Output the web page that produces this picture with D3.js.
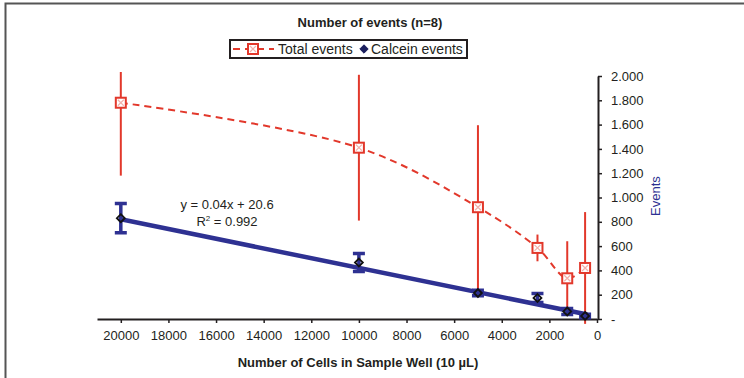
<!DOCTYPE html>
<html>
<head>
<meta charset="utf-8">
<script src="https://cdn.jsdelivr.net/npm/d3@7"></script>
<style>
  body { margin: 0; background: #fff; }
  svg text { font-family: "Liberation Sans Narrow", "Liberation Sans", sans-serif; fill: #231f20; }
</style>
</head>
<body>
<svg id="chart"></svg>
<script>
// data
var cells = [20000, 10000, 5000, 2500, 1250, 500];
var totalEvents = [1780, 1410, 920, 585, 335, 420];
var totalErr = [600, 600, 675, 110, 305, 460];
var calceinEvents = [830, 465, 214, 173, 62, 25];
var calceinErr = [120, 75, 22, 37, 25, 15];
var xTicks = [20000, 18000, 16000, 14000, 12000, 10000, 8000, 6000, 4000, 2000, 0];
var yTicks = [0, 200, 400, 600, 800, 1000, 1200, 1400, 1600, 1800, 2000];
var trend = { slope: 0.04, intercept: 20.6, r2: 0.992 };

var width = 744,
    height = 378;

var red = "#e2382b",
    blue = "#2e3192";

var svg = d3.select("#chart")
  .attr("width", width)
  .attr("height", height);

// frame
svg.append("path")
  .attr("d", "M5.5,378 V3.5 H744")
  .style("fill", "none")
  .style("stroke", "#555")
  .style("stroke-width", 2);

var x = d3.scaleLinear().domain([0, 21000]).range([597, 97]);
var y = d3.scaleLinear().domain([0, 2000]).range([319, 76]);

// x axis
var xAxis = svg.append("g")
  .attr("transform", "translate(0,319)")
  .call(d3.axisBottom(x).tickValues(xTicks).tickSize(4).tickSizeOuter(0).tickFormat(d3.format("d")));
xAxis.select(".domain").style("stroke", "#231f20").style("stroke-width", 2);
xAxis.selectAll(".tick line").style("stroke", "#231f20").style("stroke-width", 1.5);
xAxis.selectAll("text").attr("dy", "1.05em").style("font-size", "13px");

// y axis on the right
var yAxis = svg.append("g")
  .attr("transform", "translate(598,0)")
  .call(d3.axisRight(y).tickValues(yTicks).tickSize(4).tickSizeOuter(0)
    .tickFormat(function (d) { return d === 0 ? "-" : d3.format(",")(d).replace(",", "."); }));
yAxis.select(".domain").style("stroke", "#231f20").style("stroke-width", 2);
yAxis.selectAll(".tick line").style("stroke", "#231f20").style("stroke-width", 1.5);
yAxis.selectAll("text").attr("x", 13).style("font-size", "13px");

// total events error bars
svg.append("g").selectAll("line")
  .data(cells)
  .join("line")
  .attr("x1", function (d) { return x(d); })
  .attr("x2", function (d) { return x(d); })
  .attr("y1", function (d, i) { return Math.max(72, y(totalEvents[i] + totalErr[i])); })
  .attr("y2", function (d, i) { return y(totalEvents[i] - totalErr[i]); })
  .style("stroke", red)
  .style("stroke-width", 2);

// total events smoothed dashed line
var line = d3.line()
  .x(function (d) { return x(d[0]); })
  .y(function (d) { return y(d[1]); })
  .curve(d3.curveCatmullRom.alpha(0.5));

svg.append("path")
  .attr("d", line(d3.zip(cells, totalEvents)))
  .style("fill", "none")
  .style("stroke", red)
  .style("stroke-width", 2)
  .style("stroke-dasharray", "7,5");

// calcein trendline
var trendX = [d3.max(cells), d3.min(cells)];
svg.append("line")
  .attr("x1", x(trendX[0]))
  .attr("y1", y(trend.slope * trendX[0] + trend.intercept))
  .attr("x2", x(trendX[1]))
  .attr("y2", y(trend.slope * trendX[1] + trend.intercept))
  .style("stroke", blue)
  .style("stroke-width", 4.5)
  .style("stroke-linecap", "square");

// calcein error bars with caps
var cErr = svg.append("g").selectAll("g")
  .data(cells)
  .join("g")
  .attr("transform", function (d) { return "translate(" + x(d) + ",0)"; });

cErr.append("path")
  .attr("d", function (d, i) {
    var top = y(calceinEvents[i] + calceinErr[i]),
        bot = y(calceinEvents[i] - calceinErr[i]);
    return "M-6," + top + "H6M0," + top + "V" + bot + "M-6," + bot + "H6";
  })
  .style("fill", "none")
  .style("stroke", blue)
  .style("stroke-width", 3.5);

// calcein markers
svg.append("g").selectAll("path")
  .data(cells)
  .join("path")
  .attr("transform", function (d, i) { return "translate(" + x(d) + "," + y(calceinEvents[i]) + ")"; })
  .attr("d", d3.symbol(d3.symbolDiamond2, 40))
  .style("fill", "none")
  .style("stroke", "#111")
  .style("stroke-width", 1.8);

// total events markers
function squareMarker(sel) {
  sel.append("rect")
    .attr("x", -5).attr("y", -5).attr("width", 10).attr("height", 10)
    .style("fill", "#fff")
    .style("stroke", red)
    .style("stroke-width", 2);
  sel.append("path")
    .attr("d", "M-3,-3L3,3M3,-3L-3,3")
    .style("stroke", "#f3b0aa")
    .style("stroke-width", 1.2);
}

svg.append("g").selectAll("g")
  .data(cells)
  .join("g")
  .attr("transform", function (d, i) { return "translate(" + x(d) + "," + y(totalEvents[i]) + ")"; })
  .call(squareMarker);

// equation
svg.append("text")
  .attr("x", 227).attr("y", 209)
  .attr("text-anchor", "middle")
  .style("font-size", "13px")
  .text("y = " + trend.slope + "x + " + trend.intercept);

var r2 = svg.append("text")
  .attr("x", 227).attr("y", 226)
  .attr("text-anchor", "middle")
  .style("font-size", "13px");
r2.append("tspan").text("R");
r2.append("tspan").attr("dy", -5).style("font-size", "8px").text("2");
r2.append("tspan").attr("dy", 5).text(" = " + trend.r2);

// title
svg.append("text")
  .attr("x", 370).attr("y", 27)
  .attr("text-anchor", "middle")
  .style("font-size", "13px")
  .style("font-weight", "bold")
  .text("Number of events (n=8)");

// axis titles
svg.append("text")
  .attr("x", 358).attr("y", 367)
  .attr("text-anchor", "middle")
  .style("font-size", "13px")
  .style("font-weight", "bold")
  .text("Number of Cells in Sample Well (10 \u00b5L)");

svg.append("text")
  .attr("transform", "translate(660,196) rotate(-90)")
  .attr("text-anchor", "middle")
  .style("font-size", "13px")
  .style("fill", blue)
  .text("Events");

// legend
var legend = svg.append("g");
legend.append("rect")
  .attr("x", 230).attr("y", 40).attr("width", 237).attr("height", 18)
  .style("fill", "#fff")
  .style("stroke", "#231f20")
  .style("stroke-width", 2);

legend.append("line")
  .attr("x1", 233).attr("x2", 274).attr("y1", 49).attr("y2", 49)
  .style("stroke", red)
  .style("stroke-width", 2)
  .style("stroke-dasharray", "7,5");
legend.append("g")
  .attr("transform", "translate(253,49)")
  .call(squareMarker);
legend.append("text")
  .attr("x", 278).attr("y", 54)
  .style("font-size", "14px")
  .text("Total events");

legend.append("path")
  .attr("transform", "translate(364,49)")
  .attr("d", d3.symbol(d3.symbolDiamond2, 45))
  .style("fill", "#1b1f5e")
  .style("stroke", "#1b1f5e");
legend.append("text")
  .attr("x", 371).attr("y", 54)
  .style("font-size", "14px")
  .text("Calcein events");
</script>
</body>
</html>
